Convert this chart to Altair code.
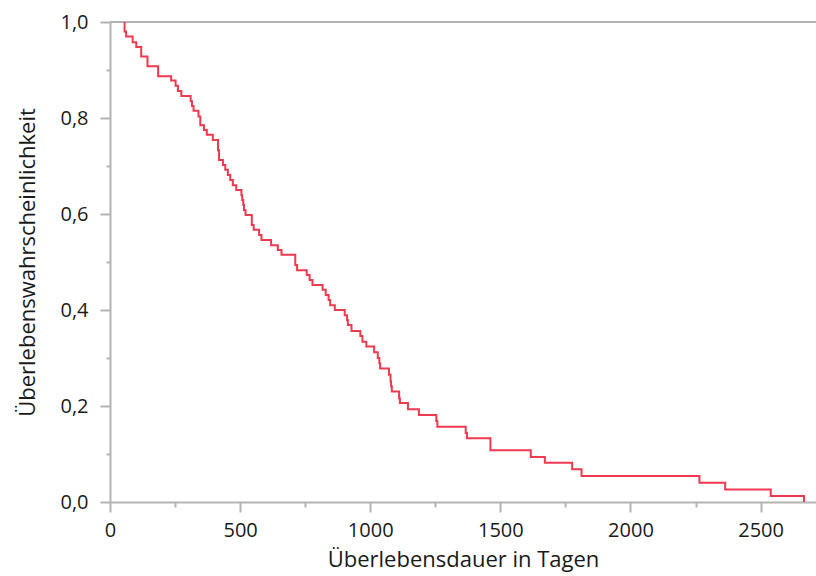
import altair as alt
import pandas as pd

# Kaplan-Meier survival curve
days = [56, 56, 62, 87, 101, 120, 144, 185, 235, 252,
        261, 274, 310, 315, 321, 340, 347, 361, 372, 395,
        415, 419, 434, 443, 453, 462, 472, 485, 505, 508,
        512, 515, 521, 545, 552, 573, 582, 619, 645, 659,
        712, 719, 756, 767, 778, 817, 829, 840, 846, 864,
        902, 911, 914, 928, 962, 970, 985, 1015, 1029, 1035,
        1038, 1072, 1078, 1080, 1083, 1111, 1114, 1145, 1187, 1254,
        1258, 1367, 1372, 1462, 1617, 1671, 1776, 1812, 2265, 2364,
        2539, 2667]
surv = [1.0, 0.98, 0.97, 0.958, 0.948, 0.928, 0.908, 0.887, 0.878, 0.867,
        0.856, 0.846, 0.835, 0.825, 0.815, 0.803, 0.785, 0.775, 0.765, 0.754,
        0.733, 0.7125, 0.702, 0.692, 0.681, 0.671, 0.66, 0.65, 0.639, 0.629,
        0.619, 0.608, 0.598, 0.577, 0.567, 0.556, 0.546, 0.535, 0.525, 0.515,
        0.494, 0.483, 0.473, 0.4625, 0.452, 0.442, 0.431, 0.421, 0.41, 0.4,
        0.389, 0.379, 0.369, 0.356, 0.346, 0.334, 0.324, 0.312, 0.3, 0.289,
        0.278, 0.265, 0.251, 0.241, 0.23, 0.216, 0.206, 0.193, 0.181, 0.169,
        0.157, 0.144, 0.133, 0.108, 0.094, 0.082, 0.068, 0.054, 0.04, 0.026,
        0.0125, 0.0]

x_ticks = [0, 250, 500, 750, 1000, 1250, 1500, 1750, 2000, 2250, 2500]
y_ticks = [0.0, 0.1, 0.2, 0.3, 0.4, 0.5, 0.6, 0.7, 0.8, 0.9, 1.0]
x_title = "Überlebensdauer in Tagen"
y_title = "Überlebenswahrscheinlichkeit"

df = pd.DataFrame({"t": days, "s": surv, "i": list(range(len(days)))})
top = pd.DataFrame({"s": [1.0]})

AX = "#b3b3b3"
FONT = "Open Sans"

x_scale = alt.Scale(domain=[0, 2713], nice=False, zero=False)
y_scale = alt.Scale(domain=[0, 1], nice=False)

x_axis = alt.Axis(
    values=x_ticks, format="d", grid=False,
    labelExpr="datum.value % 500 === 0 ? datum.label : ''",
    tickSize={"condition": {"test": "datum.value % 500 === 0", "value": 10}, "value": 5},
    tickColor=AX, tickWidth=2, domainColor=AX, domainWidth=2,
    labelFont=FONT, labelFontSize=20, labelColor="#1a1a1a", labelPadding=8,
    titleFont=FONT, titleFontSize=22, titleFontWeight="normal", titleColor="#1a1a1a",
    titlePadding=9, labelFlush=False,
)
y_axis = alt.Axis(
    values=y_ticks, grid=False,
    labelExpr="round(datum.value*10) % 2 === 0 ? replace(format(datum.value, '.1f'), '.', ',') : ''",
    tickSize={"condition": {"test": "round(datum.value*10) % 2 === 0", "value": 10}, "value": 4},
    tickColor=AX, tickWidth=2, domainColor=AX, domainWidth=2,
    labelFont=FONT, labelFontSize=20, labelColor="#1a1a1a", labelPadding=12,
    titleFont=FONT, titleFontSize=22, titleFontWeight="normal", titleColor="#1a1a1a",
    titlePadding=20, labelFlush=False,
)

rule = alt.Chart(top).mark_rule(color=AX, strokeWidth=2).encode(
    y=alt.Y("s:Q", scale=y_scale, axis=y_axis, title=y_title)
)

line = alt.Chart(df).mark_line(
    interpolate="step-after", color="#ee3a4f", strokeWidth=2, clip=True
).encode(
    x=alt.X("t:Q", scale=x_scale, axis=x_axis, title=x_title),
    y=alt.Y("s:Q", scale=y_scale, axis=y_axis, title=y_title),
    order=alt.Order("i:Q"),
)

chart = alt.layer(rule, line).properties(
    width=706, height=480,
    padding={"left": 110, "top": 22, "right": 0, "bottom": 74},
    autosize=alt.AutoSizeParams(type="none"),
    background="white",
).configure_view(stroke=None)

chart.save("out.html", embed_options={"renderer": "svg", "actions": False})
